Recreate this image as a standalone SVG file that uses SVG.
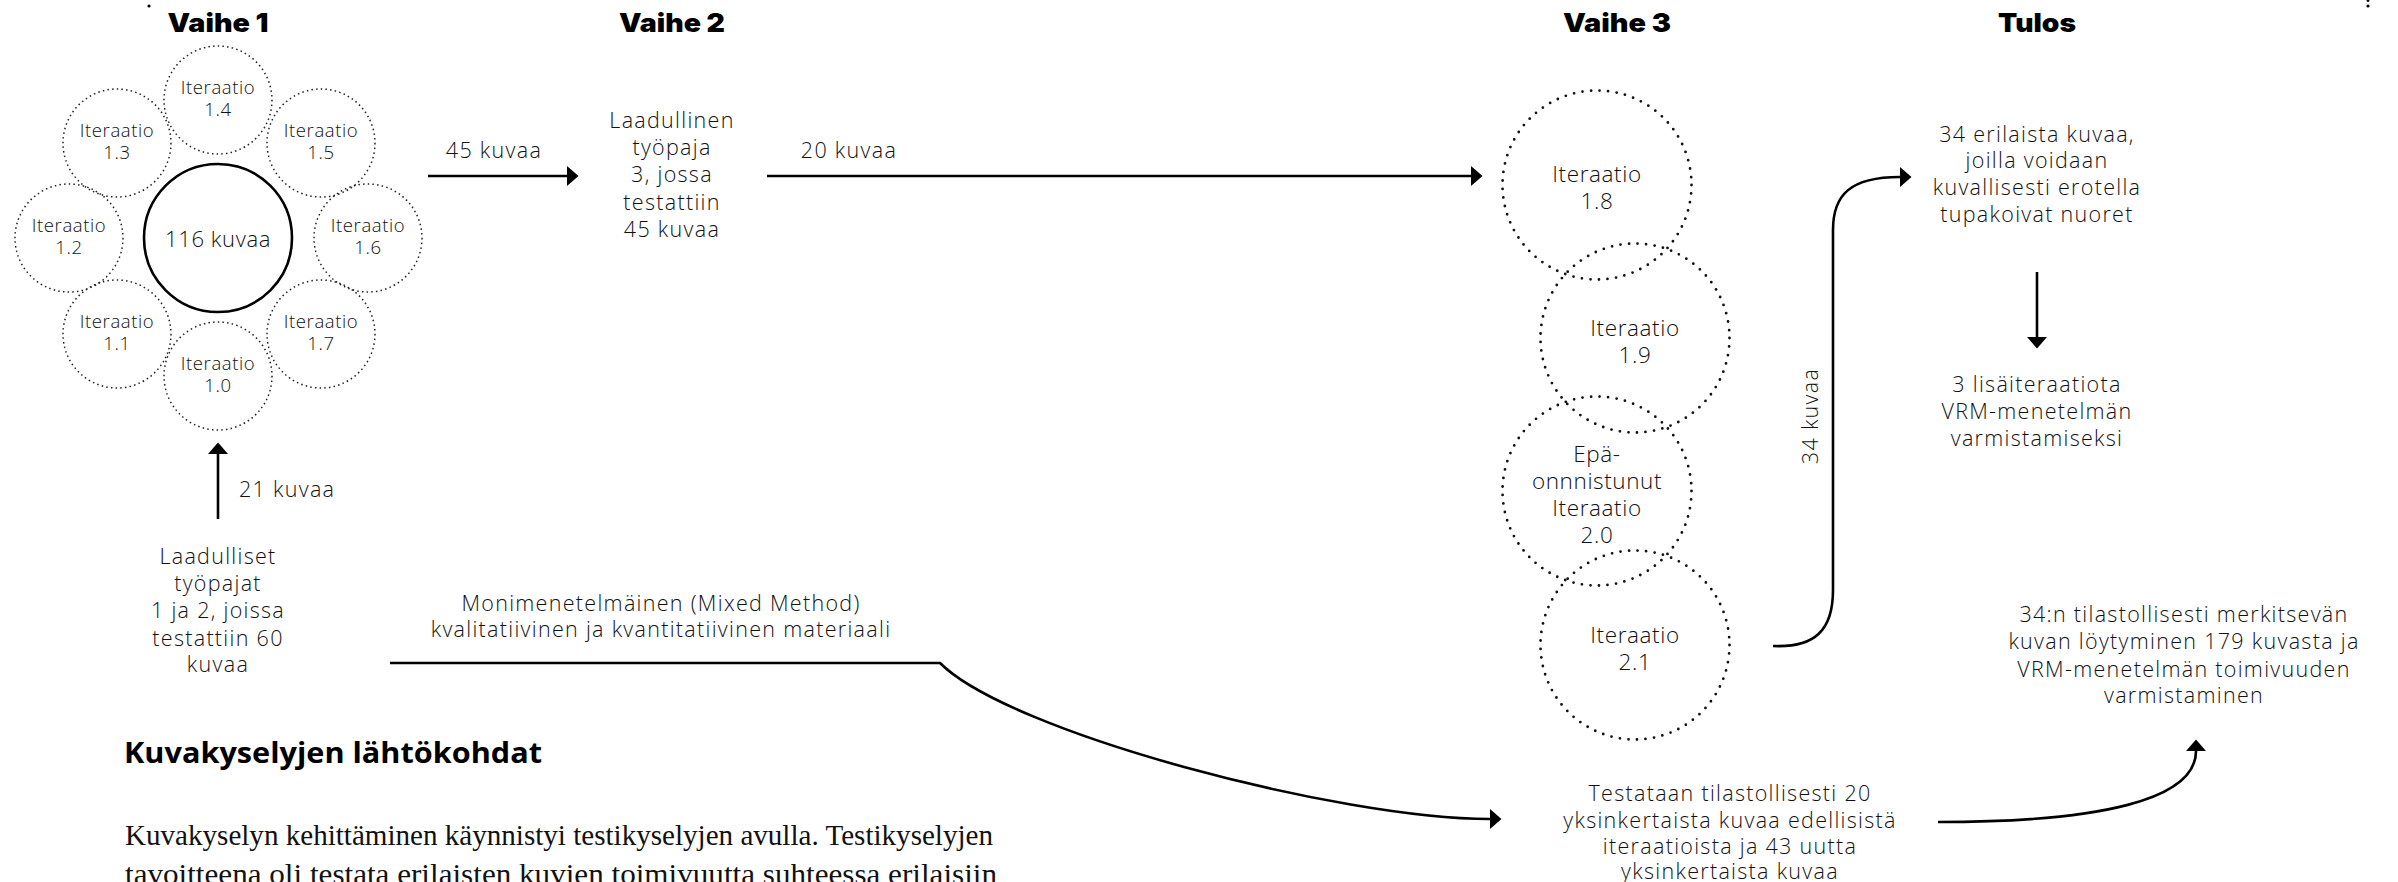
<svg xmlns="http://www.w3.org/2000/svg" width="2398" height="882" viewBox="0 0 2398 882">
<defs>
<marker id="ah" markerUnits="userSpaceOnUse" markerWidth="12" markerHeight="22" refX="0" refY="10" orient="auto">
<path d="M0,0 L11.5,10 L0,20 Z" fill="#000"/>
</marker>
<style>
.hd{font-family:Inter,"Open Sans","Liberation Sans",sans-serif;font-weight:900;font-size:26px;fill:#000;text-anchor:middle}
.lbl{font-family:"Open Sans","Noto Sans","Liberation Sans",sans-serif;font-weight:300;font-size:21.5px;fill:#111;text-anchor:middle;letter-spacing:1.3px}
.it1{font-family:"Open Sans","Noto Sans","Liberation Sans",sans-serif;font-weight:300;font-size:18.5px;fill:#111;text-anchor:middle;letter-spacing:0.6px}
.it3{font-family:"Open Sans","Noto Sans","Liberation Sans",sans-serif;font-weight:300;font-size:22.5px;fill:#111;text-anchor:middle;letter-spacing:0.6px}
.c1{fill:none;stroke:#222;stroke-width:1.5;stroke-dasharray:1.5 3.2}
.c3{fill:none;stroke:#111;stroke-width:2.8;stroke-linecap:round;stroke-dasharray:0 8.6}
.ln{fill:none;stroke:#000;stroke-width:2.6}
.h2{font-family:"Open Sans","Liberation Sans",sans-serif;font-weight:700;font-size:28px;fill:#000}
.par{font-family:"Liberation Serif",serif;font-size:29px;fill:#111}
</style>
</defs>
<rect width="2398" height="882" fill="#fff"/>
<circle cx="149" cy="6" r="1.6" fill="#000"/>
<circle cx="2368" cy="6" r="1.6" fill="#000"/>
<circle cx="2368" cy="0.5" r="1.4" fill="#000"/>

<g id="headers">
<text class="hd" x="218" y="32" textLength="101" lengthAdjust="spacingAndGlyphs">Vaihe 1</text>
<text class="hd" x="672" y="32" textLength="106" lengthAdjust="spacingAndGlyphs">Vaihe 2</text>
<text class="hd" x="1617" y="32" textLength="108" lengthAdjust="spacingAndGlyphs">Vaihe 3</text>
<text class="hd" x="2037" y="32" textLength="78" lengthAdjust="spacingAndGlyphs">Tulos</text>
</g>

<g id="center116">
<circle cx="218" cy="238" r="74" fill="none" stroke="#000" stroke-width="2.6"/>
<text class="lbl" x="218" y="247" style="font-size:22px;letter-spacing:0.6px">116 kuvaa</text>
</g>
<g id="it14"><circle class="c1" cx="218" cy="100" r="54"/><text class="it1" x="218" y="94">Iteraatio</text><text class="it1" x="218" y="116">1.4</text></g>
<g id="it13"><circle class="c1" cx="117" cy="143" r="54"/><text class="it1" x="117" y="137">Iteraatio</text><text class="it1" x="117" y="159">1.3</text></g>
<g id="it15"><circle class="c1" cx="321" cy="143" r="54"/><text class="it1" x="321" y="137">Iteraatio</text><text class="it1" x="321" y="159">1.5</text></g>
<g id="it12"><circle class="c1" cx="69" cy="238" r="54"/><text class="it1" x="69" y="232">Iteraatio</text><text class="it1" x="69" y="254">1.2</text></g>
<g id="it16"><circle class="c1" cx="368" cy="238" r="54"/><text class="it1" x="368" y="232">Iteraatio</text><text class="it1" x="368" y="254">1.6</text></g>
<g id="it11"><circle class="c1" cx="117" cy="334" r="54"/><text class="it1" x="117" y="328">Iteraatio</text><text class="it1" x="117" y="350">1.1</text></g>
<g id="it17"><circle class="c1" cx="321" cy="334" r="54"/><text class="it1" x="321" y="328">Iteraatio</text><text class="it1" x="321" y="350">1.7</text></g>
<g id="it10"><circle class="c1" cx="218" cy="376" r="54"/><text class="it1" x="218" y="370">Iteraatio</text><text class="it1" x="218" y="392">1.0</text></g>

<g id="vaihe2">
<text class="lbl" x="672" y="128">Laadullinen</text>
<text class="lbl" x="672" y="155">työpaja</text>
<text class="lbl" x="672" y="182">3, jossa</text>
<text class="lbl" x="672" y="210">testattiin</text>
<text class="lbl" x="672" y="237">45 kuvaa</text>
</g>

<g id="laadulliset">
<text class="lbl" x="218" y="564">Laadulliset</text>
<text class="lbl" x="218" y="591">työpajat</text>
<text class="lbl" x="218" y="618">1 ja 2, joissa</text>
<text class="lbl" x="218" y="646">testattiin 60</text>
<text class="lbl" x="218" y="672">kuvaa</text>
</g>

<g id="it18"><circle class="c3" cx="1597" cy="185" r="94.5"/><text class="it3" x="1597" y="182">Iteraatio</text><text class="it3" x="1597" y="209">1.8</text></g>
<g id="it19"><circle class="c3" cx="1635" cy="338" r="94.5"/><text class="it3" x="1635" y="336">Iteraatio</text><text class="it3" x="1635" y="363">1.9</text></g>
<g id="it20"><circle class="c3" cx="1597" cy="491" r="94.5"/><text class="it3" x="1597" y="462">Epä-</text><text class="it3" x="1597" y="489">onnnistunut</text><text class="it3" x="1597" y="516">Iteraatio</text><text class="it3" x="1597" y="543">2.0</text></g>
<g id="it21"><circle class="c3" cx="1635" cy="645" r="94.5"/><text class="it3" x="1635" y="643">Iteraatio</text><text class="it3" x="1635" y="670">2.1</text></g>

<g id="testataan">
<text class="lbl" x="1730" y="801">Testataan tilastollisesti 20</text>
<text class="lbl" x="1730" y="828">yksinkertaista kuvaa edellisistä</text>
<text class="lbl" x="1730" y="854">iteraatioista ja 43 uutta</text>
<text class="lbl" x="1730" y="879">yksinkertaista kuvaa</text>
</g>

<g id="tulos1">
<text class="lbl" x="2037" y="142">34 erilaista kuvaa,</text>
<text class="lbl" x="2037" y="168">joilla voidaan</text>
<text class="lbl" x="2037" y="195">kuvallisesti erotella</text>
<text class="lbl" x="2037" y="222">tupakoivat nuoret</text>
</g>
<g id="tulos2">
<text class="lbl" x="2037" y="392">3 lisäiteraatiota</text>
<text class="lbl" x="2037" y="419">VRM-menetelmän</text>
<text class="lbl" x="2037" y="446">varmistamiseksi</text>
</g>
<g id="tulos3">
<text class="lbl" x="2184" y="622">34:n tilastollisesti merkitsevän</text>
<text class="lbl" x="2184" y="649">kuvan löytyminen 179 kuvasta ja</text>
<text class="lbl" x="2184" y="677">VRM-menetelmän toimivuuden</text>
<text class="lbl" x="2184" y="703">varmistaminen</text>
</g>

<g id="connectors">
<path class="ln" d="M428,176 L567,176" marker-end="url(#ah)"/>
<path class="ln" d="M767,176 L1471,176" marker-end="url(#ah)"/>
<path class="ln" d="M218,519 L218,454" marker-end="url(#ah)"/>
<path class="ln" d="M2037,272 L2037,337" marker-end="url(#ah)"/>
<path class="ln" d="M1773,646 C1815,648 1833,630 1833,590 L1833,230 C1833,195 1850,177 1900,177" marker-end="url(#ah)"/>
<path class="ln" d="M390,663 L940,663 C1010,733 1340,819 1490,819" marker-end="url(#ah)"/>
<path class="ln" d="M1938,822 C2100,822 2196,800 2196,751" marker-end="url(#ah)"/>
<text class="lbl" x="494" y="158">45 kuvaa</text>
<text class="lbl" x="849" y="158">20 kuvaa</text>
<text class="lbl" x="239" y="497" style="text-anchor:start">21 kuvaa</text>
<text class="lbl" transform="translate(1818,416) rotate(-90)" x="0" y="0">34 kuvaa</text>
<text class="lbl" x="661" y="611">Monimenetelmäinen (Mixed Method)</text>
<text class="lbl" x="661" y="637">kvalitatiivinen ja kvantitatiivinen materiaali</text>
</g>

<g id="bodytext">
<text class="h2" x="124" y="763" textLength="418" lengthAdjust="spacingAndGlyphs">Kuvakyselyjen lähtökohdat</text>
<text class="par" x="125" y="845" textLength="868" lengthAdjust="spacingAndGlyphs">Kuvakyselyn kehittäminen käynnistyi testikyselyjen avulla. Testikyselyjen</text>
<text class="par" x="125" y="884" textLength="872" lengthAdjust="spacingAndGlyphs">tavoitteena oli testata erilaisten kuvien toimivuutta suhteessa erilaisiin</text>
</g>
</svg>
